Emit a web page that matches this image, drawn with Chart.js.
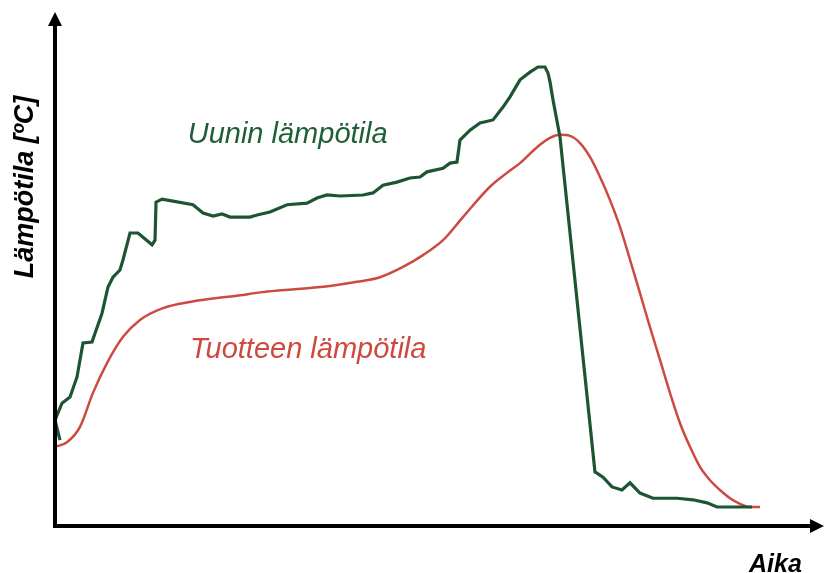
<!DOCTYPE html>
<html>
<head>
<meta charset="utf-8">
<script src="https://cdn.jsdelivr.net/npm/chart.js@4/dist/chart.umd.min.js"></script>
<style>
html,body{margin:0;padding:0;background:#fff;}
#c{display:block;}
</style>
</head>
<body>
<canvas id="c" width="824" height="573"></canvas>
<script>
// Oven temperature (Uunin lämpötila) – time and temperature (relative units 0..100)
const ovenTime = [0.65,0,0.91,1.96,2.87,3.65,4.82,6.13,6.91,7.56,8.47,8.87,9.78,10.82,12.65,13.04,13.17,13.95,15.38,17.99,19.30,20.60,21.77,22.82,24.12,25.42,26.34,28.03,30.25,32.86,34.16,35.46,37.16,40.16,41.46,42.76,44.59,46.28,47.59,48.50,50.59,51.50,52.41,52.80,54.11,55.41,57.11,58.41,59.32,60.63,61.93,62.97,63.89,64.28,64.54,64.93,65.84,70.40,70.66,71.45,72.62,73.92,74.97,76.27,77.97,81.10,83.18,85.01,86.31,90.87];
const ovenTemp = [16.7,20.6,23.9,25.1,29.0,35.6,35.8,41.4,46.5,48.4,49.8,51.8,57.0,57.0,54.7,55.6,63.0,63.6,63.2,62.5,60.9,60.3,60.7,60.1,60.1,60.1,60.5,61.1,62.5,62.8,63.8,64.4,64.2,64.4,64.8,66.3,66.9,67.7,67.9,68.9,69.6,70.6,70.8,75.1,77.0,78.4,79.0,81.5,83.5,86.8,88.3,89.3,89.3,88.1,86.4,82.9,75.7,10.5,10.3,9.5,7.6,7.0,8.4,6.4,5.4,5.4,5.1,4.5,3.7,3.7];

// Product temperature (Tuotteen lämpötila)
const productTime = [0,1.56,3.26,4.95,6.78,8.87,11.08,14.08,17.60,24.12,27.12,31.55,35.85,39.37,42.37,45.37,47.98,50.59,53.19,56.71,58.93,60.63,62.84,64.54,65.84,67.14,68.45,69.75,71.06,72.36,73.66,74.97,76.27,77.57,78.88,80.18,81.49,82.79,84.09,85.40,86.70,88.01,89.31,90.61,91.92];
const productTemp = [15.4,16.3,19.3,25.9,31.7,36.8,40.1,42.4,43.6,44.9,45.5,46.1,46.7,47.5,48.4,50.4,52.7,55.6,60.1,66.0,68.7,70.6,73.7,75.5,76.1,75.9,74.5,71.8,67.9,63.4,58.2,51.8,45.3,38.7,32.3,25.9,20.0,15.4,11.5,8.9,7.0,5.4,4.3,3.7,3.7];

const seriesLabels = ['Uunin lämpötila', 'Tuotteen lämpötila'];
const axisLabels = { y: 'Lämpötila [ºC]', x: 'Aika' };

const GREEN = '#1d5533';
const GREEN_TEXT = '#1f5f38';
const RED = '#cc4a3f';
const FONT = '"Liberation Sans", Arial, Helvetica, sans-serif';

const pts = (xs, ys) => xs.map((x, i) => ({ x: x, y: ys[i] }));

const decor = {
  id: 'decor',
  afterDatasetsDraw(chart) {
    const ctx = chart.ctx;
    const a = chart.chartArea;
    const xs = chart.scales.x, ys = chart.scales.y;
    ctx.save();
    // axes
    ctx.strokeStyle = '#000';
    ctx.fillStyle = '#000';
    ctx.lineWidth = 4;
    ctx.lineCap = 'butt';
    ctx.beginPath();
    ctx.moveTo(a.left, a.bottom + 2);
    ctx.lineTo(a.left, a.top + 12);
    ctx.moveTo(a.left - 2, a.bottom);
    ctx.lineTo(a.right - 10, a.bottom);
    ctx.stroke();
    // arrow heads
    ctx.beginPath();
    ctx.moveTo(a.left, a.top);
    ctx.lineTo(a.left - 7, a.top + 14);
    ctx.lineTo(a.left + 7, a.top + 14);
    ctx.closePath();
    ctx.fill();
    ctx.beginPath();
    ctx.moveTo(a.right + 2, a.bottom);
    ctx.lineTo(a.right - 12, a.bottom - 7);
    ctx.lineTo(a.right - 12, a.bottom + 7);
    ctx.closePath();
    ctx.fill();

    // axis titles
    ctx.fillStyle = '#000';
    ctx.font = 'italic bold 27px ' + FONT;
    ctx.textAlign = 'center';
    ctx.textBaseline = 'alphabetic';
    ctx.save();
    ctx.translate(a.left - 22, (a.top + a.bottom) / 2 - 82);
    ctx.rotate(-Math.PI / 2);
    ctx.fillText(axisLabels.y, 0, 0);
    ctx.restore();
    ctx.font = 'italic bold 25px ' + FONT;
    ctx.textAlign = 'left';
    ctx.fillText(axisLabels.x, a.right - 73, a.bottom + 46);

    // series labels
    ctx.font = 'italic 29px ' + FONT;
    ctx.fillStyle = GREEN_TEXT;
    ctx.fillText(seriesLabels[0], xs.getPixelForValue(17.3), ys.getPixelForValue(74.5));
    ctx.fillStyle = RED;
    ctx.fillText(seriesLabels[1], xs.getPixelForValue(17.6), ys.getPixelForValue(32.6));
    ctx.restore();
  }
};

new Chart(document.getElementById('c'), {
  type: 'line',
  data: {
    datasets: [
      {
        label: seriesLabels[0],
        data: pts(ovenTime, ovenTemp),
        borderColor: GREEN,
        borderWidth: 3.2,
        pointRadius: 0,
        tension: 0,
        fill: false,
        clip: false
      },
      {
        label: seriesLabels[1],
        data: pts(productTime, productTemp),
        borderColor: RED,
        borderWidth: 2.5,
        pointRadius: 0,
        cubicInterpolationMode: 'monotone',
        fill: false,
        clip: false
      }
    ]
  },
  options: {
    responsive: false,
    animation: false,
    events: [],
    layout: { padding: { left: 55, right: 2, top: 12, bottom: 47 } },
    plugins: { legend: { display: false }, tooltip: { enabled: false } },
    scales: {
      x: { type: 'linear', min: 0, max: 100, display: false },
      y: { type: 'linear', min: 0, max: 100, display: false }
    }
  },
  plugins: [decor]
});
</script>
</body>
</html>
